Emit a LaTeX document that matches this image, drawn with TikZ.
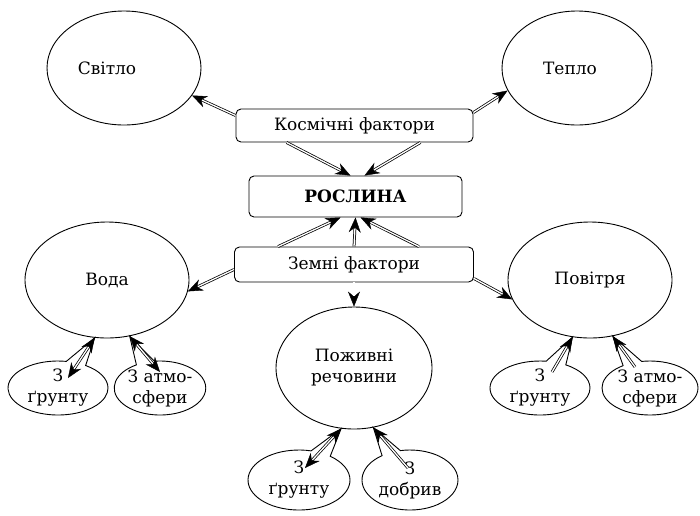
\documentclass[tikz,border=0pt]{standalone}
\usepackage{fontspec}
\setmainfont{DejaVu Serif}
\usetikzlibrary{shapes.geometric,shapes.callouts,arrows.meta}
\begin{document}
\begin{tikzpicture}[x=1pt,y=-1pt,
  font=\fontsize{17}{21}\selectfont,
  oval/.style={ellipse,draw,line width=0.9pt,inner sep=0pt,align=center},
  box/.style={draw,rounded corners=5pt,line width=0.9pt,inner sep=0pt},
  bub/.style={ellipse callout,draw,line width=0.9pt,inner sep=0pt,align=center,fill=white,callout pointer arc=24},
  tipk/.tip={Stealth[length=15pt,width=12pt,inset=5pt,line width=0.4pt]},
  dar/.style={line width=2.8pt,-tipk,
    postaction={draw=white,line width=1.3pt,arrows=-,shorten >=11pt}},
  ddar/.style={line width=2.8pt,tipk-tipk,
    postaction={draw=white,line width=1.3pt,arrows=-,shorten >=11pt,shorten <=11pt}},
]
\useasboundingbox (0,0) rectangle (700,515);

% big ovals
\node[oval,minimum width=154pt,minimum height=114pt] (svitlo) at (124,68) {Світло\hspace*{34pt}};
\node[oval,minimum width=150pt,minimum height=114pt] (teplo) at (577,68) {Тепло\hspace*{14pt}};
\node[oval,minimum width=164pt,minimum height=116pt] (voda) at (107,280) {Вода};
\node[oval,minimum width=164pt,minimum height=116pt] (povitrya) at (590,280) {Повітря};
\node[oval,minimum width=156pt,minimum height=122pt] (pozh) at (354,368) {Поживні\\речовини};

% boxes
\node[box,minimum width=237pt,minimum height=33pt] (kosm) at (354.5,125.5) {Космічні фактори};
\node[box,minimum width=213pt,minimum height=41pt,font=\fontsize{17}{21}\selectfont\bfseries] (roslyna) at (355.5,196.5) {РОСЛИНА};
\node[box,minimum width=239pt,minimum height=35pt] (zemni) at (354,264.5) {Земні фактори};

% callouts
\node[bub,minimum width=100pt,minimum height=54pt,callout absolute pointer={(voda.-102)}] (vg) at (58,388) {З\\ґрунту};
\node[bub,minimum width=84pt,minimum height=54pt,callout absolute pointer={(voda.-68)}] (va) at (160,388) {З атмо-\\сфери};
\node[bub,minimum width=100pt,minimum height=54pt,callout absolute pointer={(povitrya.-107)}] (pg) at (540,388) {З\\ґрунту};
\node[bub,minimum width=96pt,minimum height=54pt,callout absolute pointer={(povitrya.-68)}] (pa) at (650,388) {З атмо-\\сфери};
\node[bub,minimum width=102pt,minimum height=60pt,callout absolute pointer={(pozh.-102)}] (zg) at (299,480) {З\\ґрунту};
\node[bub,minimum width=96pt,minimum height=60pt,callout absolute pointer={(pozh.-72)}] (zd) at (410,480) {З\\добрив};

% inner arrow ends
\coordinate (vg-in) at (68,378);
\coordinate (va-in) at (160,372);
\coordinate (pg-in) at (552,372);
\coordinate (pa-in) at (635,367);
\coordinate (zg-in) at (305,468);
\coordinate (zd-in) at (408,468);

% connectors
\draw[dar] ([yshift=10pt]kosm.west) -- (svitlo.-22);
\draw[dar] ([yshift=13pt]kosm.east) -- (teplo.198);
\draw[dar] ([xshift=51pt]kosm.south west) -- ([xshift=-5pt]roslyna.north);
\draw[dar] ([xshift=-53pt]kosm.south east) -- ([xshift=9pt]roslyna.north);
\draw[dar] ([xshift=44pt]zemni.north west) -- ([xshift=-15pt]roslyna.south);
\draw[dar] (zemni.north) -- (roslyna.south);
\draw[dar] ([xshift=-55pt]zemni.north east) -- ([xshift=5pt]roslyna.south);
\draw[dar] ([yshift=-5pt]zemni.west) -- (voda.-8);
\draw[dar] ([yshift=-14pt]zemni.east) -- (povitrya.194);
\draw[dar] (zemni.south) -- (pozh.north);

\draw[ddar] (vg-in) -- (voda.-102);
\draw[ddar] (va-in) -- (voda.-68);
\draw[dar] (pg-in) -- (povitrya.-107);
\draw[dar] (pa-in) -- (povitrya.-68);
\draw[ddar] (zg-in) -- (pozh.-102);
\draw[dar] (zd-in) -- (pozh.-72);
\end{tikzpicture}
\end{document}
